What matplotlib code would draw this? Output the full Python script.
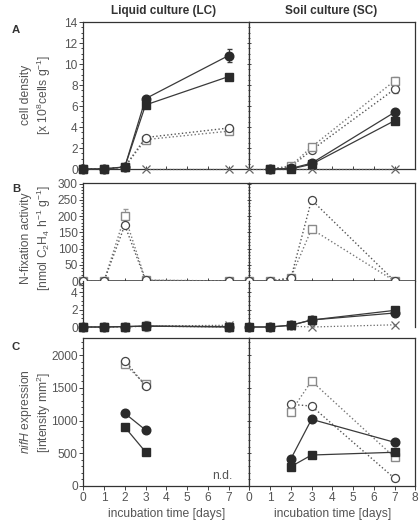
import matplotlib
matplotlib.use("Agg")
import matplotlib.pyplot as plt
from matplotlib.ticker import MultipleLocator

# ---------------- data ----------------
days_lc = [0, 1, 2, 3, 7]
days_sc = [1, 2, 3, 7]
days_sc_b = [0, 1, 2, 3, 7]
days_c = [2, 3]
days_c_sc = [2, 3, 7]

# Panel A: cell density [x10^8 cells g-1]
a_lc_fcirc = [0, 0, 0.2, 6.7, 10.8]
a_lc_fcirc_err = [0, 0, 0, 0, 0.65]
a_lc_fsq = [0, 0, 0.2, 6.1, 8.8]
a_lc_ocirc = [0, 0, 0.2, 3.0, 3.9]
a_lc_osq = [0, 0, 0.2, 2.8, 3.6]
a_lc_x_days = [3, 7]
a_lc_x = [0, 0]
a_sc_fcirc = [0, 0.05, 0.55, 5.4]
a_sc_fsq = [0, 0, 0.45, 4.6]
a_sc_ocirc = [0, 0.2, 1.8, 7.6]
a_sc_ocirc_err = [0, 0, 0.2, 0.4]
a_sc_osq = [0, 0.3, 2.1, 8.4]
a_sc_osq_err = [0, 0, 0.2, 0.4]
a_sc_x_days = [0, 3, 7]
a_sc_x = [0, 0, 0]

# Panel B: N-fixation activity [nmol C2H4 h-1 g-1]
b_lc_osq = [0, 0, 200, 3, 0]
b_lc_osq_err = [0, 0, 22, 0, 0]
b_lc_ocirc = [0, 0, 172, 2, 0]
b_sc_osq = [0, 0, 10, 160, 0]
b_sc_ocirc = [0, 0, 8, 250, 0]
b_lc_fsq = [0, 0, 0.05, 0.1, 0]
b_lc_fcirc = [0, 0, 0.05, 0.1, 0.05]
b_lc_low_osq = [0, 0, 0, 0.1, 0]
b_lc_low_osq_err = [0, 0, 0, 0.6, 0]
b_lc_x_days = [3, 7]
b_lc_x = [0.1, 0.2]
b_sc_fsq = [0, 0, 0.2, 0.8, 1.9]
b_sc_fcirc = [0, 0, 0.2, 0.8, 1.6]
b_sc_x_days = [2, 3, 7]
b_sc_x = [0.1, 0, 0.25]

# Panel C: nifH expression [intensity mm2]
c_lc_ocirc = [1915, 1525]
c_lc_osq = [1860, 1550]
c_lc_fcirc = [1110, 855]
c_lc_fsq = [900, 520]
c_sc_ocirc = [1247, 1221, 117]
c_sc_osq = [1135, 1603, 438]
c_sc_fcirc = [412, 1018, 667]
c_sc_fsq = [295, 473, 515]

lc_ticklabels = ["0", "1", "2", "3", "4", "5", "6", "7", ""]
sc_ticklabels = ["0", "1", "2", "3", "4", "5", "6", "7", "8"]

# ---------------- style ----------------
plt.rcParams['font.family'] = ['Liberation Sans', 'DejaVu Sans']
plt.rcParams['mathtext.fontset'] = 'custom'
plt.rcParams['mathtext.rm'] = 'Liberation Sans'
plt.rcParams['mathtext.it'] = 'Liberation Sans:italic'
TXT = '#555555'
DARK = '#2a2a2a'
LINE = '#3a3a3a'
GREY = '#8a8a8a'
FS = 8.2

W, H = 420, 522
fig = plt.figure(figsize=(W / 100, H / 100), dpi=100)


def ax_at(x0, top, x1, bottom):
    return fig.add_axes([x0 / W, 1 - bottom / H, (x1 - x0) / W, (bottom - top) / H])


XL, XM, XR = 83.3, 249.3, 415.3
axA = [ax_at(XL, 22, XM, 169), ax_at(XM, 22, XR, 169)]
axB = [ax_at(XL, 183, XM, 281), ax_at(XM, 183, XR, 281)]
axBl = [ax_at(XL, 281, XM, 327), ax_at(XM, 281, XR, 327)]
axC = [ax_at(XL, 338, XM, 486), ax_at(XM, 338, XR, 486)]


def fcirc(ax, x, y, err=None):
    ax.errorbar(x, y, yerr=err, color=LINE, lw=0.9, marker='o', ms=6.2,
                mfc=DARK, mec=DARK, ecolor=LINE, elinewidth=0.8, capsize=1.8,
                clip_on=False, zorder=5)


def fsq(ax, x, y, err=None):
    ax.errorbar(x, y, yerr=err, color=LINE, lw=0.9, marker='s', ms=5.6,
                mfc=DARK, mec=DARK, ecolor=LINE, elinewidth=0.8, capsize=1.8,
                clip_on=False, zorder=5)


def ocirc(ax, x, y, err=None):
    ax.errorbar(x, y, yerr=err, color='#555555', lw=1.0, ls=':', marker='o', ms=5.8,
                mfc='white', mec='#444444', mew=0.9, ecolor='#666666', elinewidth=0.8,
                capsize=1.8, clip_on=False, zorder=4)


def osq(ax, x, y, err=None):
    ax.errorbar(x, y, yerr=err, color='#777777', lw=1.0, ls=':', marker='s', ms=5.6,
                mfc='white', mec=GREY, mew=1.0, ecolor='#999999', elinewidth=0.8,
                capsize=1.8, clip_on=False, zorder=4)


def xmark(ax, x, y):
    ax.plot(x, y, color='#666666', lw=0.9, ls=':', marker='x', ms=6, mew=0.9,
            clip_on=False, zorder=3)


# Panel A
fcirc(axA[0], days_lc, a_lc_fcirc, a_lc_fcirc_err)
fsq(axA[0], days_lc, a_lc_fsq)
osq(axA[0], days_lc, a_lc_osq)
ocirc(axA[0], days_lc, a_lc_ocirc)
xmark(axA[0], a_lc_x_days, a_lc_x)
ocirc(axA[1], days_sc, a_sc_ocirc, a_sc_ocirc_err)
osq(axA[1], days_sc, a_sc_osq, a_sc_osq_err)
fcirc(axA[1], days_sc, a_sc_fcirc)
fsq(axA[1], days_sc, a_sc_fsq)
xmark(axA[1], a_sc_x_days, a_sc_x)

# Panel B upper
osq(axB[0], days_lc, b_lc_osq, b_lc_osq_err)
ocirc(axB[0], days_lc, b_lc_ocirc)
osq(axB[1], days_sc_b, b_sc_osq)
ocirc(axB[1], days_sc_b, b_sc_ocirc)

# Panel B lower
osq(axBl[0], days_lc, b_lc_low_osq, b_lc_low_osq_err)
xmark(axBl[0], b_lc_x_days, b_lc_x)
fcirc(axBl[0], days_lc, b_lc_fcirc)
fsq(axBl[0], days_lc, b_lc_fsq)
xmark(axBl[1], b_sc_x_days, b_sc_x)
fcirc(axBl[1], days_sc_b, b_sc_fcirc)
fsq(axBl[1], days_sc_b, b_sc_fsq)

# Panel C
osq(axC[0], days_c, c_lc_osq)
ocirc(axC[0], days_c, c_lc_ocirc)
fcirc(axC[0], days_c, c_lc_fcirc)
fsq(axC[0], days_c, c_lc_fsq)
ocirc(axC[1], days_c_sc, c_sc_ocirc)
osq(axC[1], days_c_sc, c_sc_osq)
fcirc(axC[1], days_c_sc, c_sc_fcirc)
fsq(axC[1], days_c_sc, c_sc_fsq)
axC[0].text(7.2, 60, "n.d.", ha='right', va='bottom', fontsize=FS + 0.5, color=TXT)

# ---------------- axes formatting ----------------
rows = [
    (axA, (0, 14), 2, 0.5),
    (axB, (0, 302), 50, 10),
    (axBl, (0, 5.26), 2, 0.5),
    (axC, (0, 2260), 500, 100),
]
for axes, ylim, major, minor in rows:
    for i, ax in enumerate(axes):
        ax.set_xlim(0, 8)
        ax.set_ylim(*ylim)
        ax.yaxis.set_major_locator(MultipleLocator(major))
        ax.yaxis.set_minor_locator(MultipleLocator(minor))
        ax.xaxis.set_major_locator(MultipleLocator(1))
        for s in ax.spines.values():
            s.set_linewidth(0.9)
            s.set_color('#333333')
        ax.tick_params(axis='both', which='both', colors='#444444', labelcolor=TXT,
                       labelsize=FS + 0.4, width=0.7)
        ax.tick_params(axis='y', which='major', length=3, pad=1.0)
        ax.tick_params(axis='y', which='minor', length=1.5)
        if i == 1:
            ax.tick_params(axis='y', which='both', direction='inout', labelleft=False)
        if axes is not axC:
            ax.tick_params(axis='x', which='both', direction='in', length=2.5,
                           labelbottom=False)
        else:
            ax.tick_params(axis='x', length=3, pad=1.5)
            ax.set_xticks(range(9))
            ax.set_xticklabels(lc_ticklabels if i == 0 else sc_ticklabels)
            ax.set_xlabel("incubation time [days]", fontsize=FS + 0.5, color=TXT,
                          labelpad=3)

for ax in axBl:
    ax.spines['top'].set_visible(False)
    ax.spines['bottom'].set_visible(False)
    ax.tick_params(axis='x', which='both', bottom=False)
for ax in axB:
    ax.spines['bottom'].set_linewidth(1.1)

# ---------------- text ----------------
fig.text(0.39, 0.978, "Liquid culture (LC)", ha='center', va='center',
         fontsize=FS + 0.3, fontweight='bold', color='#333333')
fig.text(0.788, 0.978, "Soil culture (SC)", ha='center', va='center',
         fontsize=FS + 0.3, fontweight='bold', color='#333333')
for lab, yp in [("A", 30), ("B", 189), ("C", 347)]:
    fig.text(12 / W, 1 - yp / H, lab, ha='left', va='center', fontsize=FS,
             fontweight='bold', color='#333333')

ylabels = [
    (95, "cell density", "[x 10$^{8}$cells g$^{-1}$]"),
    (238, "N-fixation activity", "[nmol C$_2$H$_4$ h$^{-1}$ g$^{-1}$]"),
    (412, "$\\it{nifH}$ expression", "[intensity mm$^{2}$]"),
]
for yp, l1, l2 in ylabels:
    fig.text(26 / W, 1 - yp / H, l1, rotation=90, ha='center', va='center',
             fontsize=FS + 0.5, color=TXT)
    fig.text(44 / W, 1 - yp / H, l2, rotation=90, ha='center', va='center',
             fontsize=FS + 0.5, color=TXT)

fig.savefig("out.png", dpi=100)
